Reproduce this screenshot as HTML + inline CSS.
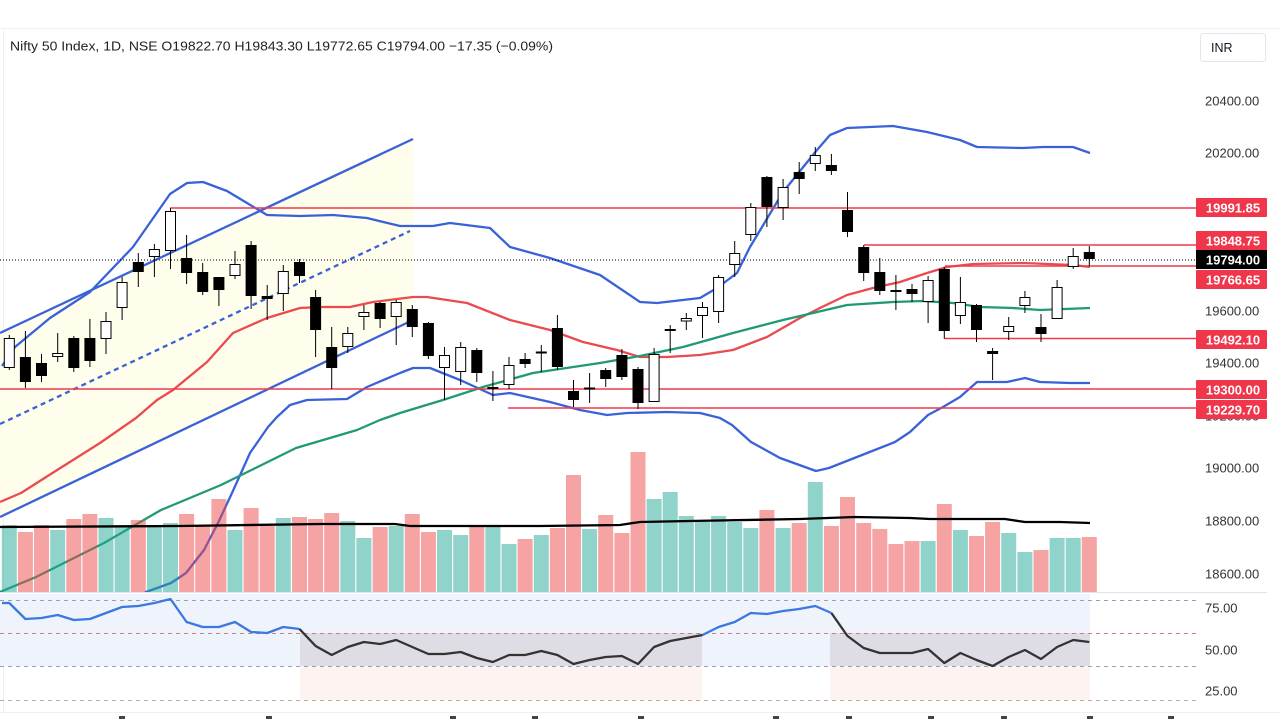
<!DOCTYPE html>
<html><head><meta charset="utf-8"><style>
html,body{margin:0;padding:0;background:#fff;}
svg{display:block;}
text{font-family:"Liberation Sans",sans-serif;}
</style></head><body>
<svg width="1280" height="719" viewBox="0 0 1280 719" xmlns="http://www.w3.org/2000/svg">
<defs><clipPath id="mp"><rect x="0" y="28" width="1197" height="564"/></clipPath></defs>
<rect width="1280" height="719" fill="#fff"/>
<line x1="0" y1="28.5" x2="1280" y2="28.5" stroke="#eef0f3"/>
<line x1="3.5" y1="28" x2="3.5" y2="712" stroke="#f0f0f0"/>
<text x="10" y="50.5" font-size="13" fill="#222" textLength="543" lengthAdjust="spacingAndGlyphs">Nifty 50 Index, 1D, NSE  O19822.70  H19843.30  L19772.65  C19794.00  −17.35 (−0.09%)</text>
<rect x="1200.5" y="33.5" width="65" height="28" rx="3" fill="#fff" stroke="#e3e5ea"/>
<text x="1211" y="52" font-size="12.5" fill="#131722">INR</text>

<g clip-path="url(#mp)">
<polygon points="0,333 413,139 413,320 0,517" fill="#fffdec"/>
<line x1="0" y1="333" x2="413" y2="139" stroke="#3a62d8" stroke-width="2.3"/>
<line x1="0" y1="517" x2="413" y2="320" stroke="#3a62d8" stroke-width="2.3"/>
<line x1="0" y1="424" x2="410" y2="231" stroke="#3a62d8" stroke-width="2.3" stroke-dasharray="5,4"/>
<polyline fill="none" stroke="#3a62d8" stroke-width="2.3" stroke-linejoin="round" points="2,366 15,347 50,318 90,292 133,247 170,194 187,183 203,182 227,191 247,203 267,215 300,216 333,215 367,218 400,226 413,226 433,226 450,223 490,228 510,247 550,258 600,275 640,302 657,303 700,298 717,288 737,273 750,247 783,192 817,150 830,135 847,128 893,126 927,132 960,140 977,147 1023,148 1043,147 1073,147 1090,153"/>
<polyline fill="none" stroke="#3a62d8" stroke-width="2.3" stroke-linejoin="round" points="140,596 146,592 171,583 186,573 204,550 218,523 232,493 250,453 268,427 277,417 290,405 307,400 347,399 367,387 400,373 413,368 430,368 460,380 493,395 510,393 550,402 580,410 607,415 627,413 667,412 700,413 720,418 732,425 751,442 780,458 816,471 829,468 862,455 895,442 910,432 928,415 943,407 960,397 977,382 1007,382 1025,378 1040,382 1070,383 1090,383"/>
<polyline fill="none" stroke="#ea4a50" stroke-width="2.3" stroke-linejoin="round" points="0,502 21,493 54,472 100,443 136,418 157,400 173,390 207,362 233,333 267,318 300,308 320,307 350,307 373,302 413,297 427,297 467,303 510,320 550,330 583,342 617,350 640,357 667,357 700,355 733,350 767,337 800,318 820,308 847,295 873,288 900,282 927,273 947,267 973,264 1023,263 1073,265 1090,267"/>
<polyline fill="none" stroke="#1f9a74" stroke-width="2.3" stroke-linejoin="round" points="0,592 36,577 104,543 161,510 221,485 296,448 357,430 380,420 400,413 443,400 483,387 533,373 600,363 640,356 683,347 733,333 783,320 813,313 847,305 893,302 923,301 953,303 980,307 1013,308 1040,310 1090,308"/>
</g>

<g fill-opacity="0.5">
<g fill="#1fa795">
<rect x="1.8" y="525" width="15" height="67"/><rect x="50.2" y="530" width="15" height="62"/><rect x="98.5" y="518" width="15" height="74"/><rect x="114.6" y="525" width="15" height="67"/><rect x="146.9" y="526" width="15" height="66"/><rect x="163" y="523" width="15" height="69"/><rect x="227.5" y="530" width="15" height="62"/><rect x="275.8" y="518" width="15" height="74"/><rect x="340.3" y="521" width="15" height="71"/><rect x="356.4" y="538" width="15" height="54"/><rect x="388.7" y="526" width="15" height="66"/><rect x="437" y="530" width="15" height="62"/><rect x="453.2" y="535" width="15" height="57"/><rect x="485.4" y="526" width="15" height="66"/><rect x="501.5" y="544" width="15" height="48"/><rect x="533.8" y="535" width="15" height="57"/><rect x="582.1" y="529" width="15" height="63"/><rect x="646.6" y="499" width="15" height="93"/><rect x="662.7" y="492" width="15" height="100"/><rect x="678.8" y="516" width="15" height="76"/><rect x="695" y="522" width="15" height="70"/><rect x="711.1" y="516" width="15" height="76"/><rect x="727.2" y="522" width="15" height="70"/><rect x="743.3" y="528" width="15" height="64"/><rect x="775.6" y="528" width="15" height="64"/><rect x="807.8" y="482" width="15" height="110"/><rect x="920.6" y="541" width="15" height="51"/><rect x="952.9" y="530" width="15" height="62"/><rect x="1001.2" y="533" width="15" height="59"/><rect x="1017.4" y="552" width="15" height="40"/><rect x="1049.6" y="538" width="15" height="54"/><rect x="1065.7" y="538" width="15" height="54"/>
</g>
<g fill="#eb4747">
<rect x="17.9" y="532" width="15" height="60"/><rect x="34" y="525" width="15" height="67"/><rect x="66.3" y="519" width="15" height="73"/><rect x="82.4" y="514" width="15" height="78"/><rect x="130.8" y="520" width="15" height="72"/><rect x="179.1" y="514" width="15" height="78"/><rect x="195.2" y="526" width="15" height="66"/><rect x="211.4" y="499" width="15" height="93"/><rect x="243.6" y="508" width="15" height="84"/><rect x="259.7" y="526" width="15" height="66"/><rect x="292" y="517" width="15" height="75"/><rect x="308.1" y="519" width="15" height="73"/><rect x="324.2" y="513" width="15" height="79"/><rect x="372.6" y="527" width="15" height="65"/><rect x="404.8" y="514" width="15" height="78"/><rect x="420.9" y="532" width="15" height="60"/><rect x="469.3" y="526" width="15" height="66"/><rect x="517.6" y="539" width="15" height="53"/><rect x="549.9" y="528" width="15" height="64"/><rect x="566" y="475" width="15" height="117"/><rect x="598.2" y="515" width="15" height="77"/><rect x="614.4" y="533" width="15" height="59"/><rect x="630.5" y="452" width="15" height="140"/><rect x="759.4" y="510" width="15" height="82"/><rect x="791.7" y="523" width="15" height="69"/><rect x="823.9" y="526" width="15" height="66"/><rect x="840" y="497" width="15" height="95"/><rect x="856.2" y="523" width="15" height="69"/><rect x="872.3" y="529" width="15" height="63"/><rect x="888.4" y="544" width="15" height="48"/><rect x="904.5" y="541" width="15" height="51"/><rect x="936.8" y="504" width="15" height="88"/><rect x="969" y="536" width="15" height="56"/><rect x="985.1" y="522" width="15" height="70"/><rect x="1033.5" y="550" width="15" height="42"/><rect x="1081.8" y="537" width="15" height="55"/>
</g>
</g>
<polyline fill="none" stroke="#000" stroke-width="2.3" points="0,527 180,526 320,524 395,524 410,526 540,526 620,525 640,522 690,521 800,519 855,517 910,518 930,519 1005,519 1025,522 1060,522 1090,523"/>

<g stroke="#ef3a4c" stroke-width="1.5">
<line x1="170" y1="208" x2="1197" y2="208"/>
<line x1="864" y1="245" x2="1197" y2="245"/>
<line x1="945" y1="266" x2="1197" y2="266"/>
<line x1="945" y1="338.5" x2="1197" y2="338.5"/>
<line x1="0" y1="389" x2="1197" y2="389"/>
<line x1="508" y1="408" x2="1197" y2="408"/>
</g>
<line x1="0" y1="260" x2="1197" y2="260" stroke="#000" stroke-width="1" stroke-dasharray="1,2"/>

<g stroke="#000" stroke-width="1">
<line x1="9.3" y1="335" x2="9.3" y2="370"/><line x1="25.4" y1="331" x2="25.4" y2="388"/><line x1="41.5" y1="354" x2="41.5" y2="382"/><line x1="57.7" y1="333" x2="57.7" y2="362"/><line x1="73.8" y1="336" x2="73.8" y2="372"/><line x1="89.9" y1="319" x2="89.9" y2="367"/><line x1="106" y1="312" x2="106" y2="354"/><line x1="122.1" y1="277" x2="122.1" y2="320"/><line x1="138.3" y1="253" x2="138.3" y2="287"/><line x1="154.4" y1="244" x2="154.4" y2="277"/><line x1="170.5" y1="208" x2="170.5" y2="269"/><line x1="186.6" y1="235" x2="186.6" y2="284"/><line x1="202.7" y1="263" x2="202.7" y2="295"/><line x1="218.9" y1="277" x2="218.9" y2="306"/><line x1="235" y1="251" x2="235" y2="279"/><line x1="251.1" y1="241" x2="251.1" y2="309"/><line x1="267.2" y1="285" x2="267.2" y2="320"/><line x1="283.3" y1="265" x2="283.3" y2="311"/><line x1="299.5" y1="259" x2="299.5" y2="283"/><line x1="315.6" y1="290" x2="315.6" y2="357"/><line x1="331.7" y1="327" x2="331.7" y2="389"/><line x1="347.8" y1="327" x2="347.8" y2="353"/><line x1="363.9" y1="305" x2="363.9" y2="330"/><line x1="380.1" y1="302" x2="380.1" y2="328"/><line x1="396.2" y1="300" x2="396.2" y2="345"/><line x1="412.3" y1="305" x2="412.3" y2="337"/><line x1="428.4" y1="322" x2="428.4" y2="359"/><line x1="444.5" y1="347" x2="444.5" y2="400"/><line x1="460.7" y1="342" x2="460.7" y2="385"/><line x1="476.8" y1="348" x2="476.8" y2="382"/><line x1="492.9" y1="371" x2="492.9" y2="401"/><line x1="509" y1="357" x2="509" y2="389"/><line x1="525.1" y1="353" x2="525.1" y2="368"/><line x1="541.3" y1="345" x2="541.3" y2="372"/><line x1="557.4" y1="315" x2="557.4" y2="370"/><line x1="573.5" y1="380" x2="573.5" y2="407"/><line x1="589.6" y1="373" x2="589.6" y2="403"/><line x1="605.7" y1="368" x2="605.7" y2="387"/><line x1="621.9" y1="349" x2="621.9" y2="380"/><line x1="638" y1="367" x2="638" y2="409"/><line x1="654.1" y1="348" x2="654.1" y2="402"/><line x1="670.2" y1="325" x2="670.2" y2="353"/><line x1="686.3" y1="313" x2="686.3" y2="330"/><line x1="702.5" y1="302" x2="702.5" y2="338"/><line x1="718.6" y1="275" x2="718.6" y2="323"/><line x1="734.7" y1="241" x2="734.7" y2="277"/><line x1="750.8" y1="203" x2="750.8" y2="241"/><line x1="766.9" y1="176" x2="766.9" y2="227"/><line x1="783.1" y1="179" x2="783.1" y2="220"/><line x1="799.2" y1="162" x2="799.2" y2="194"/><line x1="815.3" y1="147" x2="815.3" y2="171"/><line x1="831.4" y1="154" x2="831.4" y2="175"/><line x1="847.5" y1="192" x2="847.5" y2="237"/><line x1="863.7" y1="245" x2="863.7" y2="281"/><line x1="879.8" y1="258" x2="879.8" y2="295"/><line x1="895.9" y1="275" x2="895.9" y2="310"/><line x1="912" y1="284" x2="912" y2="302"/><line x1="928.1" y1="276" x2="928.1" y2="323"/><line x1="944.3" y1="267" x2="944.3" y2="339"/><line x1="960.4" y1="277" x2="960.4" y2="324"/><line x1="976.5" y1="304" x2="976.5" y2="342"/><line x1="992.6" y1="348" x2="992.6" y2="380"/><line x1="1008.7" y1="317" x2="1008.7" y2="340"/><line x1="1024.9" y1="291" x2="1024.9" y2="313"/><line x1="1041" y1="314" x2="1041" y2="342"/><line x1="1057.1" y1="280" x2="1057.1" y2="319"/><line x1="1073.2" y1="248" x2="1073.2" y2="269"/><line x1="1089.3" y1="246" x2="1089.3" y2="266"/>
</g>
<g fill="#000">
<rect x="19.9" y="357" width="11" height="25"/><rect x="36" y="363" width="11" height="13"/><rect x="68.3" y="338" width="11" height="30"/><rect x="84.4" y="338" width="11" height="23"/><rect x="132.8" y="262" width="11" height="10"/><rect x="181.1" y="258" width="11" height="15"/><rect x="197.2" y="272" width="11" height="20"/><rect x="213.4" y="277" width="11" height="13"/><rect x="245.6" y="245" width="11" height="51"/><rect x="261.7" y="296" width="11" height="3"/><rect x="294" y="262" width="11" height="14"/><rect x="310.1" y="297" width="11" height="33"/><rect x="326.2" y="347" width="11" height="21"/><rect x="374.6" y="303" width="11" height="16"/><rect x="406.8" y="309" width="11" height="18"/><rect x="422.9" y="323" width="11" height="33"/><rect x="471.3" y="350" width="11" height="23"/><rect x="487.4" y="387" width="11" height="2"/><rect x="519.6" y="359" width="11" height="5"/><rect x="535.8" y="351.5" width="11" height="2"/><rect x="551.9" y="328" width="11" height="39"/><rect x="568" y="391" width="11" height="9"/><rect x="584.1" y="387.5" width="11" height="2"/><rect x="600.2" y="370" width="11" height="9"/><rect x="616.4" y="355" width="11" height="22"/><rect x="632.5" y="369" width="11" height="34"/><rect x="664.7" y="329" width="11" height="2"/><rect x="761.4" y="177" width="11" height="30"/><rect x="793.7" y="172" width="11" height="7"/><rect x="825.9" y="165" width="11" height="6"/><rect x="842" y="210" width="11" height="22"/><rect x="858.2" y="247" width="11" height="26"/><rect x="874.3" y="272" width="11" height="19"/><rect x="890.4" y="290" width="11" height="2"/><rect x="906.5" y="289" width="11" height="5"/><rect x="938.8" y="269" width="11" height="62"/><rect x="971" y="305" width="11" height="25"/><rect x="987.1" y="351" width="11" height="3"/><rect x="1035.5" y="327" width="11" height="7"/><rect x="1083.8" y="252" width="11" height="7"/>
</g>
<g fill="#fff" stroke="#000" stroke-width="1">
<rect x="4.3" y="338.5" width="10" height="29"/><rect x="52.7" y="353.5" width="10" height="3"/><rect x="101" y="321.5" width="10" height="17"/><rect x="117.1" y="282.5" width="10" height="25"/><rect x="149.4" y="249.5" width="10" height="7"/><rect x="165.5" y="211.5" width="10" height="39"/><rect x="230" y="264.5" width="10" height="11"/><rect x="278.3" y="271.5" width="10" height="22"/><rect x="342.8" y="333.5" width="10" height="13"/><rect x="358.9" y="312.5" width="10" height="4"/><rect x="391.2" y="302.5" width="10" height="14"/><rect x="439.5" y="355.5" width="10" height="12"/><rect x="455.7" y="347.5" width="10" height="24"/><rect x="504" y="365.5" width="10" height="19"/><rect x="649.1" y="354.5" width="10" height="47"/><rect x="681.3" y="318.5" width="10" height="2.5"/><rect x="697.5" y="307.5" width="10" height="8"/><rect x="713.6" y="277.5" width="10" height="34"/><rect x="729.7" y="253.5" width="10" height="11"/><rect x="745.8" y="207.5" width="10" height="27"/><rect x="778.1" y="187.5" width="10" height="20"/><rect x="810.3" y="155.5" width="10" height="8"/><rect x="923.1" y="280.5" width="10" height="21"/><rect x="955.4" y="302.5" width="10" height="13"/><rect x="1003.7" y="326.5" width="10" height="5"/><rect x="1019.9" y="297.5" width="10" height="8"/><rect x="1052.1" y="287.5" width="10" height="31"/><rect x="1068.2" y="256.5" width="10" height="10"/>
</g>

<g font-size="13" fill="#333">
<text x="1205" y="105.5">20400.00</text>
<text x="1205" y="157.5">20200.00</text>
<text x="1205" y="315.5">19600.00</text>
<text x="1205" y="367.5">19400.00</text>
<text x="1205" y="420.5">19200.00</text>
<text x="1205" y="472.5">19000.00</text>
<text x="1205" y="525.5">18800.00</text>
<text x="1205" y="578.5">18600.00</text>
</g>
<g fill="#f0364a">
<rect x="1196" y="198" width="71" height="19" rx="1"/>
<rect x="1196" y="231" width="71" height="19" rx="1"/>
<rect x="1196" y="270" width="71" height="19" rx="1"/>
<rect x="1196" y="330" width="71" height="19" rx="1"/>
<rect x="1196" y="380" width="71" height="19" rx="1"/>
<rect x="1196" y="400" width="71" height="19" rx="1"/>
</g>
<rect x="1196" y="250" width="71" height="19" fill="#000"/>
<g font-size="13" fill="#fff" font-weight="bold" text-anchor="middle">
<text x="1233" y="212.5">19991.85</text>
<text x="1233" y="245.5">19848.75</text>
<text x="1233" y="264.5">19794.00</text>
<text x="1233" y="284.5">19766.65</text>
<text x="1233" y="344.5">19492.10</text>
<text x="1233" y="394.5">19300.00</text>
<text x="1233" y="414.5">19229.70</text>
</g>

<line x1="0" y1="592.5" x2="1267" y2="592.5" stroke="#e0e3eb"/>
<rect x="0" y="594" width="1090" height="39" fill="#eef3fc"/>
<rect x="0" y="633" width="300" height="33" fill="#eef3fc"/>
<rect x="702" y="633" width="128" height="33" fill="#eef3fc"/>
<rect x="300" y="633" width="402" height="33" fill="#dedde5"/>
<rect x="830" y="633" width="260" height="33" fill="#dedde5"/>
<rect x="300" y="666" width="402" height="34" fill="#fdf4f2"/>
<rect x="830" y="666" width="260" height="34" fill="#fdf4f2"/>
<g stroke-width="1" stroke-dasharray="4,4">
<line x1="0" y1="600.5" x2="1197" y2="600.5" stroke="#8fa3b5"/>
<line x1="0" y1="633.5" x2="1197" y2="633.5" stroke="#c98080"/>
<line x1="0" y1="666.5" x2="1197" y2="666.5" stroke="#8fa3b5"/>
<line x1="0" y1="700.5" x2="1197" y2="700.5" stroke="#c8a4a4"/>
</g>
<polyline fill="none" stroke="#3b78e0" stroke-width="2.3" stroke-linejoin="round" points="2,603 9.3,603 25.4,619 41.5,618 57.7,615 73.8,620 89.9,619 106,613 122.1,607 138.3,606 154.4,603 170.5,599 186.6,622 202.7,627 218.9,627 235,622 251.1,632 267.2,633 283.3,627 299.5,629"/>
<polyline fill="none" stroke="#333" stroke-width="2.3" stroke-linejoin="round" points="299.5,629 315.6,646 331.7,655 347.8,647 363.9,642 380.1,644 396.2,640 412.3,647 428.4,654 444.5,654 460.7,652 476.8,658 492.9,662 509,655 525.1,655 541.3,651 557.4,655 573.5,664 589.6,660 605.7,657 621.9,656 638,664 654.1,647 670.2,641 686.3,638 702.5,635"/>
<polyline fill="none" stroke="#3b78e0" stroke-width="2.3" stroke-linejoin="round" points="702.5,635 718.6,627 734.7,622 750.8,613 766.9,614 783.1,611 799.2,609 815.3,606 831.4,613"/>
<polyline fill="none" stroke="#333" stroke-width="2.3" stroke-linejoin="round" points="831.4,613 847.5,636 863.7,648 879.8,653 895.9,653 912,653 928.1,649 944.3,663 960.4,653 976.5,660 992.6,666 1008.7,657 1024.9,650 1041,659 1057.1,647 1073.2,640 1089.3,642"/>
<g font-size="13" fill="#333">
<text x="1205" y="612.5">75.00</text>
<text x="1205" y="654.5">50.00</text>
<text x="1205" y="695.5">25.00</text>
</g>
<line x1="0" y1="712.5" x2="1280" y2="712.5" stroke="#f0f0f0"/>
<g fill="#444">
<rect x="119" y="716" width="6" height="3"/><rect x="266" y="716" width="6" height="3"/><rect x="450" y="716" width="6" height="3"/><rect x="532" y="716" width="6" height="3"/><rect x="638" y="716" width="6" height="3"/><rect x="773" y="716" width="6" height="3"/><rect x="846" y="716" width="6" height="3"/><rect x="928" y="716" width="6" height="3"/><rect x="1001" y="716" width="6" height="3"/><rect x="1087" y="716" width="6" height="3"/><rect x="1168" y="716" width="6" height="3"/>
</g>
</svg>
</body></html>
